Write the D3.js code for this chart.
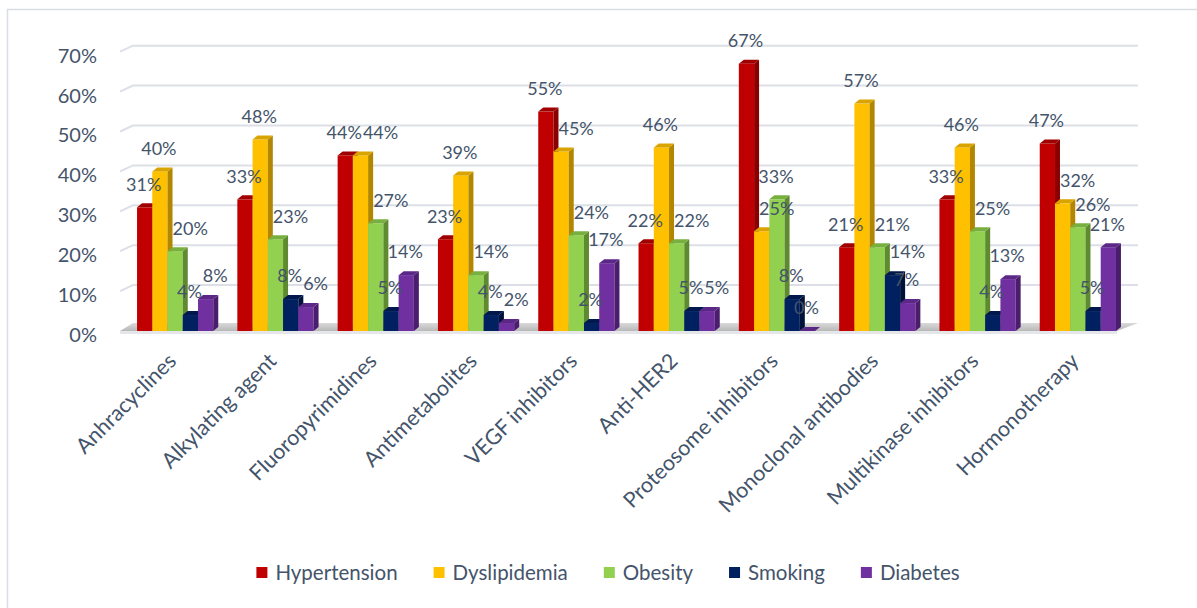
<!DOCTYPE html>
<html>
<head>
<meta charset="utf-8">
<script src="https://cdn.jsdelivr.net/npm/d3@7"></script>
<style>
  html, body { margin: 0; padding: 0; background: #ffffff; }
  svg { display: block; }
  text { font-family: Lato, "Open Sans", sans-serif; fill: #44546A; }
</style>
</head>
<body>
<svg id="chart" width="1197" height="608"></svg>
<script>
// Drug classes along the x axis
const categories = [
  "Anhracyclines", "Alkylating agent", "Fluoropyrimidines", "Antimetabolites",
  "VEGF inhibitors", "Anti-HER2", "Proteosome inhibitors", "Monoclonal antibodies",
  "Multikinase inhibitors", "Hormonotherapy"
];

// Cardiovascular risk factor prevalence per drug class (fractions)
const seriesNames = ["Hypertension", "Dyslipidemia", "Obesity", "Smoking", "Diabetes"];
const hypertension = [0.31, 0.33, 0.44, 0.23, 0.55, 0.22, 0.67, 0.21, 0.33, 0.47];
const dyslipidemia = [0.40, 0.48, 0.44, 0.39, 0.45, 0.46, 0.25, 0.57, 0.46, 0.32];
const obesity      = [0.20, 0.23, 0.27, 0.14, 0.24, 0.22, 0.33, 0.21, 0.25, 0.26];
const smoking      = [0.04, 0.08, 0.05, 0.04, 0.02, 0.05, 0.08, 0.14, 0.04, 0.05];
const diabetes     = [0.08, 0.06, 0.14, 0.02, 0.17, 0.05, 0.00, 0.07, 0.13, 0.21];

const yTicks = [0, 0.1, 0.2, 0.3, 0.4, 0.5, 0.6, 0.7];

const seriesValues = [hypertension, dyslipidemia, obesity, smoking, diabetes];

// Face colours: front, side, top
const faceColors = {
  Hypertension: ["#C00000", "#8A0000", "#A00000"],
  Dyslipidemia: ["#FFC000", "#B38600", "#D9A300"],
  Obesity:      ["#92D050", "#5E8A30", "#78B040"],
  Smoking:      ["#002060", "#00123A", "#00184C"],
  Diabetes:     ["#7030A0", "#4A1E6C", "#5C2888"]
};

const svg = d3.select("#chart");

// Outer chart border
svg.append("rect")
  .attr("x", 7.5).attr("y", 9.5)
  .attr("width", 1200).attr("height", 610)
  .attr("fill", "none").attr("stroke", "#DADDE3").attr("stroke-width", 1.5);

const floorY = 331;
const wallDx = 13, wallDy = -6;     // depth of the back wall
const barDx = 5, barDy = -4;        // depth of each bar

const x0 = d3.scaleBand().domain(categories).range([125, 1128])
  .paddingInner(0.24).paddingOuter(0.12);
const x1 = d3.scaleBand().domain(seriesNames).range([0, x0.bandwidth()]);
const y = d3.scaleLinear().domain([0, 0.7]).range([floorY, floorY - 0.7 * 399]);

const plotLeft = 120, plotRightBack = 1138, plotRightFront = 1117;

// Back-wall gridlines with the short diagonal along the side wall
const grid = svg.append("g");
grid.selectAll("polyline").data(yTicks.filter(t => t > 0)).join("polyline")
  .attr("points", t => {
    const yf = y(t), yb = y(t) + wallDy;
    return `${plotLeft},${yf} ${plotLeft + wallDx},${yb} ${plotRightBack},${yb}`;
  })
  .attr("fill", "none").attr("stroke", "#DCDFE6").attr("stroke-width", 2);

// Floor slab
const defs = svg.append("defs");
const fg = defs.append("linearGradient").attr("id", "floorGrad")
  .attr("x1", 0).attr("y1", 0).attr("x2", 0).attr("y2", 1);
fg.append("stop").attr("offset", "0%").attr("stop-color", "#D9D9D9");
fg.append("stop").attr("offset", "100%").attr("stop-color", "#B8B8B8");
svg.append("polygon")
  .attr("points", `${plotLeft},${floorY} ${plotRightFront},${floorY} ${plotRightBack},${floorY + wallDy - 2} ${plotLeft + wallDx},${floorY + wallDy - 2}`)
  .attr("fill", "url(#floorGrad)");
svg.append("rect")
  .attr("x", plotLeft).attr("y", floorY)
  .attr("width", plotRightFront - plotLeft).attr("height", 3)
  .attr("fill", "#E4E6EA");

// Y axis labels
const yAxis = d3.axisLeft(y).tickValues(yTicks).tickFormat(d3.format(".0%"))
  .tickSize(0).tickPadding(0);
const yg = svg.append("g").attr("transform", "translate(97,4)").call(yAxis);
yg.select(".domain").remove();
yg.selectAll("text").style("font-size", "20px").attr("fill", "#44546A")
  .style("font-family", "Lato, sans-serif");

// Bars
const bars = [];
categories.forEach((c, ci) => {
  seriesNames.forEach((s, si) => {
    bars.push({ cat: c, series: s, value: seriesValues[si][ci], ci, si });
  });
});

const barW = x1.bandwidth();
const barG = svg.append("g");
const barNodes = barG.selectAll("g.bar").data(bars).join("g").attr("class", "bar");
barNodes.each(function (d) {
  const g = d3.select(this);
  const x = x0(d.cat) + x1(d.series);
  const yt = y(d.value);
  const [front, side, top] = faceColors[d.series];
  g.append("rect").attr("x", x).attr("y", yt).attr("width", barW)
    .attr("height", floorY - yt).attr("fill", front);
  g.append("polygon")
    .attr("points", `${x + barW},${yt} ${x + barW + barDx},${yt + barDy} ${x + barW + barDx},${floorY + barDy} ${x + barW},${floorY}`)
    .attr("fill", side);
  g.append("polygon")
    .attr("points", `${x},${yt} ${x + barDx},${yt + barDy} ${x + barW + barDx},${yt + barDy} ${x + barW},${yt}`)
    .attr("fill", top);
});

// Data labels
const labelG = svg.append("g");
const fmt = d3.format(".0%");
const labelH = 16;
const labels = bars.map(d => ({
  ...d,
  text: fmt(d.value),
  cx: x0(d.cat) + x1(d.series) + barW / 2 - 1,
  cy: y(d.value) - 23
}));
const labelNodes = labelG.selectAll("text").data(labels).join("text")
  .attr("text-anchor", "middle")
  .attr("dy", "0.35em")
  .style("font-size", "18px")
  .text(d => d.text);
labelNodes.each(function (d) { d.w = this.getComputedTextLength(); });

categories.forEach((c, ci) => {
  const grp = labels.filter(l => l.ci === ci).sort((a, b) => a.si - b.si);
  // wide labels are moved clear of a taller bar on their left
  for (let i = 1; i < grp.length; i++) {
    const d = grp[i], left = grp[i - 1];
    if (d.w > 2 * barW && left.value > d.value) {
      const edge = x0(c) + x1(left.series) + barW + barDx;
      const top = y(left.value) + barDy;
      if (d.cy + labelH / 2 > top && d.cx - d.w / 2 < edge) d.cx = edge + d.w / 2;
    }
  }
  // labels that still collide are pushed to the right
  for (let i = 0; i < grp.length; i++) {
    for (let j = i + 1; j < grp.length; j++) {
      const a = grp[i], b = grp[j];
      const need = (a.w + b.w) / 2 + 1;
      if (Math.abs(a.cy - b.cy) < labelH && Math.abs(b.cx - a.cx) < need) {
        b.cx = a.cx + need;
      }
    }
  }
});
labelNodes.attr("x", d => d.cx).attr("y", d => d.cy);

// Category labels, rotated
const xg = svg.append("g");
xg.selectAll("text").data(categories).join("text")
  .attr("transform", c => `translate(${x0(c) + x0.bandwidth() / 2 - 3},${357}) rotate(-45)`)
  .attr("text-anchor", "end")
  .attr("dy", "0.35em")
  .style("font-size", "21.5px")
  .text(c => c);

// Legend
const legend = svg.append("g");
const items = legend.selectAll("g").data(seriesNames).join("g");
items.append("rect").attr("width", 11).attr("height", 11).attr("y", -6)
  .attr("fill", s => faceColors[s][0]);
items.append("text").attr("x", 19).attr("dy", "0.35em")
  .style("font-size", "20.5px").text(s => s);
let lx = 0;
items.each(function () {
  const g = d3.select(this);
  g.attr("transform", `translate(${lx},0)`);
  lx += 19 + g.select("text").node().getComputedTextLength() + 36;
});
const legendW = lx - 36;
legend.attr("transform", `translate(${608 - legendW / 2},573)`);
</script>
</body>
</html>
